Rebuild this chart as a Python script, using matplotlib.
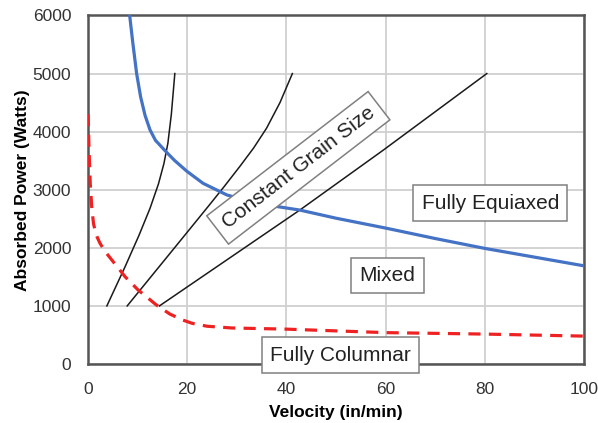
import matplotlib
matplotlib.use("Agg")
import matplotlib.pyplot as plt

plt.rcParams['font.family'] = ['Liberation Sans', 'DejaVu Sans']

# Fully equiaxed boundary (blue)
blue_v = [8.4, 9.0, 9.8, 10.6, 11.5, 12.5, 13.6, 14.8, 16.0, 17.5, 19.9, 23.2, 28.0, 33.0, 37.4, 42.7,
          50, 60, 70, 80, 90, 100]
blue_p = [6000, 5550, 5000, 4600, 4280, 4030, 3850, 3740, 3630, 3500, 3320, 3110, 2910, 2790, 2720, 2650,
          2510, 2340, 2160, 1990, 1840, 1690]

# Fully columnar boundary (red dashed)
red_v = [0.0, 0.2, 0.45, 0.75, 1.1, 1.6, 2.4, 3.5, 4.8, 6.2, 7.5, 10.1, 13.8, 16.5, 19.0, 21.0, 24.0,
         29.0, 40, 60, 80, 100]
red_p = [4300, 3700, 3100, 2700, 2420, 2230, 2080, 1930, 1790, 1640, 1500, 1274, 1015, 860, 760, 700, 650,
         620, 600, 540, 515, 480]

# Constant grain size lines (black)
g1_v = [3.8, 7.5, 10.3, 12.5, 14.2, 15.3, 16.1, 16.8, 17.5]
g1_p = [1000, 1680, 2220, 2680, 3100, 3450, 3800, 4300, 5000]
g2_v = [7.9, 12.0, 16.2, 20.3, 24.3, 27.5, 30.6, 33.4, 36.0, 38.7, 41.2]
g2_p = [1000, 1430, 1870, 2300, 2720, 3060, 3400, 3720, 4060, 4500, 5000]
g3_v = [14.4, 42.7, 59.5, 80.4]
g3_p = [1000, 2650, 3680, 5000]

x_ticks = [0, 20, 40, 60, 80, 100]
y_ticks = [0, 1000, 2000, 3000, 4000, 5000, 6000]

fig = plt.figure(figsize=(5.98, 4.23), dpi=100)
ax = fig.add_axes([0.1472, 0.1395, 0.8294, 0.8239])

ax.set_xlim(0, 100)
ax.set_ylim(0, 6000)
ax.set_xticks(x_ticks)
ax.set_yticks(y_ticks)
ax.grid(True, color='#d0d0d0', linewidth=1.3)
ax.set_axisbelow(True)
for s in ax.spines.values():
    s.set_color('#555555')
    s.set_linewidth(1.8)
ax.tick_params(length=0, labelsize=12.5, labelcolor='#333333')
ax.tick_params(axis='x', pad=13)
ax.tick_params(axis='y', pad=12)

for v, p in [(g1_v, g1_p), (g2_v, g2_p), (g3_v, g3_p)]:
    ax.plot(v, p, color='#1a1a1a', linewidth=1.1, zorder=3, solid_joinstyle='round')
ax.plot(blue_v, blue_p, color='#4472c4', linewidth=2.3, zorder=4, solid_joinstyle='round')
ax.plot(red_v, red_p, color='#ee2222', linewidth=2.3, linestyle=(0, (3.8, 2.6)), zorder=4)

box = dict(boxstyle='square,pad=0.4', facecolor='white', edgecolor='#808080', linewidth=1.1)
ax.text(42.4, 3377, 'Constant Grain Size', rotation=37.6, rotation_mode='anchor',
        ha='center', va='center', fontsize=15, color='#222222', bbox=box, zorder=5)
ax.text(81.1, 2771, 'Fully Equiaxed', ha='center', va='center', fontsize=15,
        color='#222222', bbox=box, zorder=5)
ax.text(60.4, 1523, 'Mixed', ha='center', va='center', fontsize=15,
        color='#222222', bbox=box, zorder=5)
ax.text(50.9, 150, 'Fully Columnar', ha='center', va='center', fontsize=15,
        color='#222222', bbox=box, zorder=5, clip_on=False)

ax.set_xlabel('Velocity (in/min)', fontsize=12.5, fontweight='bold', labelpad=6)
ax.set_ylabel('Absorbed Power (Watts)', fontsize=12.5, fontweight='bold', labelpad=2)

fig.savefig('out.png', dpi=100)
